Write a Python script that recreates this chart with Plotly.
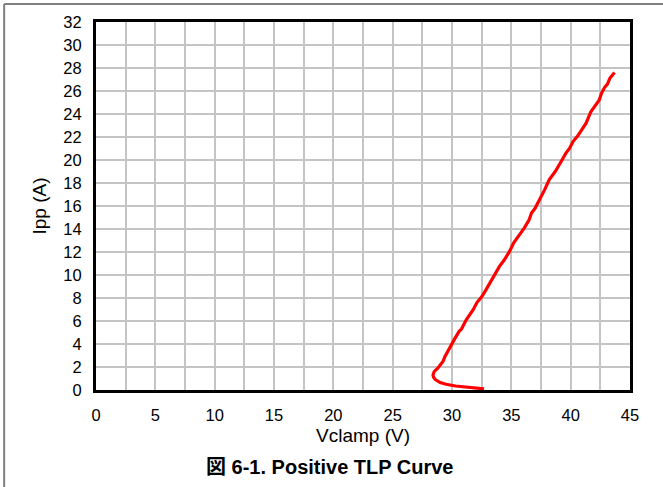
import plotly.graph_objects as go

# Data (Vclamp in V, Ipp in A)
vclamp = [32.7, 31.5, 30.3, 29.5, 29.0, 28.6, 28.45, 28.4, 28.5, 28.8, 29.0, 29.25, 29.4, 29.6,
          29.9, 30.2, 30.6, 30.8, 31.2, 31.4, 31.8, 32.1, 32.5, 32.8, 33.2, 33.6, 34.0, 34.4,
          34.85, 35.2, 35.7, 36.1, 36.5, 36.7, 37.0, 37.4, 37.8, 38.2, 38.7, 39.1, 39.6, 39.9,
          40.2, 40.6, 40.9, 41.3, 41.7, 42.0, 42.4, 42.6, 42.85, 43.1, 43.3, 43.7]
ipp = [0.1, 0.2, 0.35, 0.5, 0.65, 0.9, 1.1, 1.3, 1.6, 1.9, 2.2, 2.5, 2.9, 3.3,
       3.9, 4.4, 5.1, 5.3, 6.1, 6.4, 7.0, 7.6, 8.1, 8.6, 9.3, 10.0, 10.75, 11.3,
       12.05, 12.8, 13.5, 14.1, 14.8, 15.4, 15.8, 16.55, 17.4, 18.3, 19.0, 19.7, 20.6, 21.0,
       21.6, 22.1, 22.6, 23.2, 24.2, 24.6, 25.2, 25.8, 26.3, 26.6, 27.1, 27.6]

x_title = "Vclamp (V)"
y_title = "Ipp (A)"
caption = "<b>図 6-1. Positive TLP Curve</b>"

FONT = "Arial, 'Liberation Sans', 'Noto Sans CJK JP', sans-serif"

fig = go.Figure()
fig.add_trace(go.Scatter(x=vclamp, y=ipp, mode="lines",
                         line=dict(color="#FF0000", width=3.2), showlegend=False))

fig.update_layout(
    width=663, height=487,
    margin=dict(l=96, r=33, t=22, b=97),
    paper_bgcolor="white", plot_bgcolor="white",
    font=dict(family=FONT, size=16.5, color="#000000"),
    xaxis=dict(range=[0, 45], dtick=5, tick0=0, showgrid=True, gridcolor="#c4c4c4", gridwidth=1.5,
               minor=dict(dtick=2.5, showgrid=True, gridcolor="#c4c4c4", gridwidth=1.5),
               showline=True, linecolor="black", linewidth=3, mirror=True,
               ticks="", ticklabelstandoff=8, zeroline=False,
               title=dict(text=x_title, standoff=6, font=dict(size=19))),
    yaxis=dict(range=[0, 32], dtick=2, tick0=0, showgrid=True, gridcolor="#c4c4c4", gridwidth=1.5,
               showline=True, linecolor="black", linewidth=3, mirror=True,
               ticks="", ticklabelstandoff=8, zeroline=False,
               title=dict(text=y_title, standoff=12, font=dict(size=19))),
    annotations=[dict(text=caption, xref="paper", yref="paper", x=0.438, y=-0.209,
                      showarrow=False, font=dict(size=20, family=FONT),
                      xanchor="center", yanchor="middle")],
    shapes=[
        dict(type="line", xref="paper", yref="paper", x0=-0.172, x1=1.07, y0=1.049, y1=1.049,
             line=dict(color="#808080", width=2)),
        dict(type="line", xref="paper", yref="paper", x0=-0.172, x1=-0.172, y0=1.049, y1=-0.27,
             line=dict(color="#808080", width=2)),
    ],
)

fig.write_html("out.html", config={"displayModeBar": False},
               post_script="document.body.style.margin='0';document.body.style.padding='0';")
